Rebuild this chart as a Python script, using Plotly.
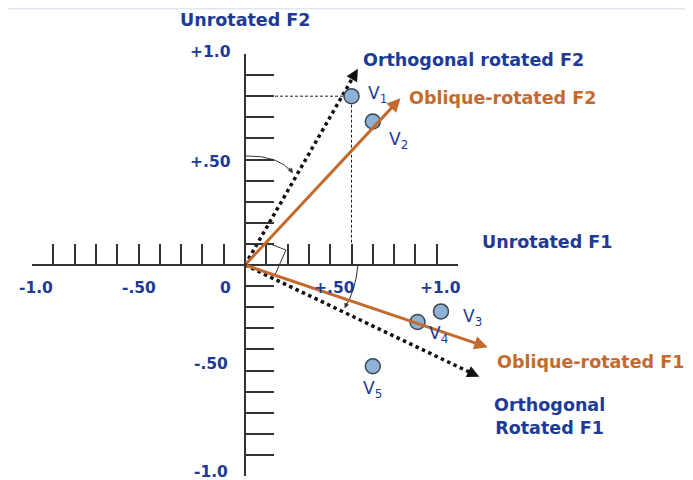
import plotly.graph_objects as go

# -----------------------------
# Factor loadings
# -----------------------------
var_names = ["V<sub>1</sub>", "V<sub>2</sub>", "V<sub>3</sub>", "V<sub>4</sub>", "V<sub>5</sub>"]
load_f1 = [0.50, 0.60, 0.92, 0.81, 0.60]
load_f2 = [0.80, 0.68, -0.22, -0.27, -0.48]
label_x = [0.62, 0.72, 1.07, 0.91, 0.60]
label_y = [0.81, 0.59, -0.25, -0.33, -0.59]

# rotated factor axes: end points (F1, F2)
orth_f1 = (1.10, -0.53)
orth_f2 = (0.53, 0.93)
obl_f1 = (1.14, -0.39)
obl_f2 = (0.73, 0.79)

# tick labels
xtick_vals = [-0.98, -0.50, -0.09, 0.42, 0.92]
xtick_text = ["-1.0", "-.50", "0", "+.50", "+1.0"]
ytick_vals = [1.01, 0.49, -0.47, -0.98]
ytick_text = ["+1.0", "+.50", "-.50", "-1.0"]

BLUE = "#1c3a96"
ORANGE = "#c36a2c"
FONT = "DejaVu Sans"

# the page body adds 8 px, so the figure is drawn 8 px smaller
# origin at (237, 257) inside the figure, 213 px per unit in x, 211 in y
W, H = 685, 472
ox, oy, sx, sy = 237, 257, 213, 211
x_range = [-ox / sx, (W - ox) / sx]
y_range = [-(H - oy) / sy, oy / sy]

fig = go.Figure()

# dummy trace so the ruler axes get drawn
fig.add_trace(go.Scatter(x=[None], y=[None], xaxis="x2", yaxis="y2", hoverinfo="skip"))

# projection of V1 onto the unrotated axes
fig.add_trace(go.Scatter(x=[0, load_f1[0], load_f1[0]], y=[load_f2[0], load_f2[0], 0],
                         mode="lines", line=dict(color="#222", width=1, dash="3px,2px"),
                         hoverinfo="skip"))

# orthogonal rotated axes (dotted)
for end in [orth_f1, orth_f2]:
    fig.add_trace(go.Scatter(x=[0, end[0] * 0.96], y=[0, end[1] * 0.96], mode="lines",
                             line=dict(color="#111", width=3.5, dash="3.5px,3.5px"),
                             hoverinfo="skip"))
    fig.add_annotation(x=end[0], y=end[1], ax=end[0] * 0.95, ay=end[1] * 0.95,
                       xref="x", yref="y", axref="x", ayref="y", text="",
                       showarrow=True, arrowhead=2, arrowsize=1.1, arrowwidth=2.2,
                       arrowcolor="#111", standoff=0)

# oblique rotated axes (solid orange)
for end in [obl_f1, obl_f2]:
    fig.add_annotation(x=end[0], y=end[1], ax=0, ay=0,
                       xref="x", yref="y", axref="x", ayref="y", text="",
                       showarrow=True, arrowhead=2, arrowsize=0.9, arrowwidth=3,
                       arrowcolor=ORANGE, standoff=0)

# rotation arcs and right-angle marker
fig.add_shape(type="path", xref="x", yref="y", path="M 0,0.517 Q 0.16,0.52 0.22,0.44",
              line=dict(color="#333", width=1))
fig.add_annotation(x=0.225, y=0.435, ax=-5, ay=-7, text="", showarrow=True,
                   arrowhead=2, arrowsize=1, arrowwidth=1, arrowcolor="#333", standoff=0)
fig.add_shape(type="path", xref="x", yref="y", path="M 0.53,0 Q 0.52,-0.12 0.47,-0.20",
              line=dict(color="#333", width=1))
fig.add_annotation(x=0.468, y=-0.205, ax=3, ay=-7, text="", showarrow=True,
                   arrowhead=2, arrowsize=1, arrowwidth=1, arrowcolor="#333", standoff=0)
fig.add_shape(type="path", xref="x", yref="y", path="M 0.108,0.104 L 0.192,0.071 L 0.141,-0.047",
              line=dict(color="#333", width=1))

# variables
fig.add_trace(go.Scatter(x=load_f1, y=load_f2, mode="markers",
                         marker=dict(size=15, color="#8db2d6", line=dict(color="#3a4550", width=1.5)),
                         hoverinfo="skip"))
for name, lx, ly in zip(var_names, label_x, label_y):
    fig.add_annotation(x=lx, y=ly, text=name, showarrow=False,
                       font=dict(family=FONT, size=17, color=BLUE))

# tick labels
for v, t in zip(xtick_vals, xtick_text):
    fig.add_annotation(x=v, y=-0.11, text=t, showarrow=False,
                       font=dict(family=FONT, size=15.5, color=BLUE, weight="bold"))
for v, t in zip(ytick_vals, ytick_text):
    fig.add_annotation(x=-0.16, y=v, text=t, showarrow=False,
                       font=dict(family=FONT, size=15.5, color=BLUE, weight="bold"))

# axis titles
titles = [
    ("Unrotated F2", 0.0, 1.16, BLUE),
    ("Unrotated F1", 1.42, 0.11, BLUE),
    ("Orthogonal rotated F2", 1.075, 0.97, BLUE),
    ("Oblique-rotated F2", 1.21, 0.79, ORANGE),
    ("Oblique-rotated F1", 1.62, -0.46, ORANGE),
    ("Orthogonal<br>Rotated F1", 1.43, -0.72, BLUE),
]
for t, x, y, c in titles:
    fig.add_annotation(x=x, y=y, text=t, showarrow=False, align="center",
                       font=dict(family=FONT, size=17.5, color=c, weight="bold"))

# thin slide border line at the top
fig.add_shape(type="line", xref="paper", yref="paper", x0=0, x1=1, y0=1 - 0.8 / H, y1=1 - 0.8 / H,
              line=dict(color="#dfe8f2", width=1.5))

ruler = dict(range=[-1, 1], showline=True, linecolor="#333", linewidth=1.5,
             tickvals=[-1, -0.5, 0, 0.5, 1], ticks="inside", tickcolor="#333", tickwidth=1.5,
             showticklabels=False, showgrid=False, zeroline=False, fixedrange=True)

fig.update_layout(
    width=W, height=H,
    margin=dict(l=0, r=0, t=0, b=0),
    paper_bgcolor="white", plot_bgcolor="rgba(0,0,0,0)",
    showlegend=False,
    xaxis=dict(range=x_range, visible=False, fixedrange=True),
    yaxis=dict(range=y_range, visible=False, fixedrange=True),
    xaxis2=dict(ruler, domain=[(ox - sx) / W, (ox + sx) / W], anchor="free",
                position=(H - oy) / H, ticklen=20,
                minor=dict(dtick=0.1, ticks="inside", ticklen=20, tickcolor="#333", tickwidth=1.5)),
    yaxis2=dict(ruler, domain=[(H - oy - sy) / H, (H - oy + sy) / H], anchor="free",
                position=ox / W, ticklen=28,
                minor=dict(dtick=0.1, ticks="inside", ticklen=28, tickcolor="#333", tickwidth=1.5)),
)

fig.write_html("out.html")
